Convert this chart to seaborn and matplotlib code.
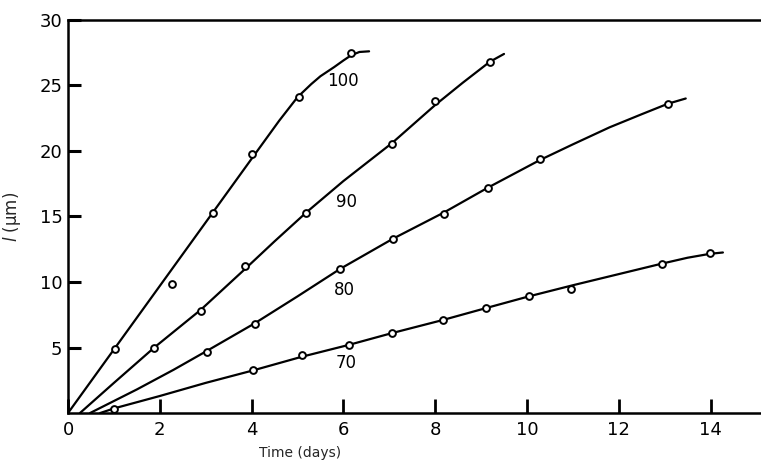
import numpy as np
import pandas as pd
import matplotlib
matplotlib.use("Agg")
import matplotlib.pyplot as plt
import seaborn as sns

# ---- data ----
labels = ["100", "90", "80", "70"]

# measured points (open circles)
pts100_x = [1.02, 2.27, 3.16, 4.00, 5.03, 6.17]
pts100_y = [4.9, 9.85, 15.3, 19.8, 24.1, 27.5]
pts90_x = [1.88, 2.90, 3.86, 5.19, 7.06, 8.00, 9.19]
pts90_y = [5.0, 7.8, 11.2, 15.3, 20.5, 23.8, 26.8]
pts80_x = [3.03, 4.07, 5.93, 7.08, 8.19, 9.15, 10.28, 13.07]
pts80_y = [4.65, 6.8, 11.0, 13.3, 15.2, 17.2, 19.4, 23.6]
pts70_x = [1.00, 4.03, 5.10, 6.12, 7.06, 8.17, 9.10, 10.04, 10.96, 12.94, 13.99]
pts70_y = [0.3, 3.3, 4.4, 5.2, 6.1, 7.1, 8.0, 8.9, 9.45, 11.4, 12.2]

# drawn (fitted) curves
cur100_x = [0.0, 1.0, 2.0, 3.0, 4.0, 4.6, 5.0, 5.3, 5.5, 5.8, 6.0, 6.17, 6.35, 6.56]
cur100_y = [0.0, 4.85, 9.7, 14.55, 19.4, 22.3, 24.1, 25.1, 25.7, 26.4, 26.9, 27.3, 27.55, 27.6]
cur90_x = [0.26, 1.0, 1.88, 2.90, 3.86, 4.5, 5.19, 6.0, 7.06, 8.00, 8.6, 9.19, 9.50]
cur90_y = [0.0, 2.3, 5.0, 7.9, 11.0, 13.1, 15.3, 17.7, 20.6, 23.5, 25.2, 26.8, 27.4]
cur80_x = [0.48, 1.5, 2.3, 3.03, 4.07, 5.0, 5.93, 7.08, 8.19, 9.15, 10.28, 11.0, 11.8, 12.5, 13.07, 13.46]
cur80_y = [0.0, 1.8, 3.3, 4.75, 6.85, 8.9, 11.0, 13.3, 15.3, 17.2, 19.3, 20.5, 21.8, 22.8, 23.6, 24.0]
cur70_x = [0.70, 1.0, 2.0, 3.0, 4.03, 5.10, 6.12, 7.06, 8.17, 9.10, 10.04, 11.0, 12.0, 12.94, 13.5, 13.99, 14.27]
cur70_y = [0.0, 0.35, 1.3, 2.3, 3.25, 4.3, 5.2, 6.1, 7.1, 8.0, 8.9, 9.75, 10.6, 11.4, 11.85, 12.15, 12.25]

# label positions
label_x = [6.0, 6.07, 6.03, 6.07]
label_y = [25.3, 16.1, 9.4, 3.8]

x_ticks = [0, 2, 4, 6, 8, 10, 12, 14]
y_ticks = [5, 10, 15, 20, 25, 30]

pts = pd.concat([
    pd.DataFrame({"x": pts100_x, "y": pts100_y, "s": "100"}),
    pd.DataFrame({"x": pts90_x, "y": pts90_y, "s": "90"}),
    pd.DataFrame({"x": pts80_x, "y": pts80_y, "s": "80"}),
    pd.DataFrame({"x": pts70_x, "y": pts70_y, "s": "70"}),
])
curves = [(cur100_x, cur100_y), (cur90_x, cur90_y), (cur80_x, cur80_y), (cur70_x, cur70_y)]

sns.set_style("ticks")
plt.rcParams["font.family"] = ["DejaVu Sans"]

fig = plt.figure(figsize=(7.61, 4.62), dpi=100)
ax = fig.add_axes([0.0894, 0.106, 0.9106, 0.851])

for (cx, cy), lab in zip(curves, labels):
    sns.lineplot(x=cx, y=cy, sort=False, color="black", linewidth=1.6, ax=ax, zorder=2)

sns.scatterplot(data=pts, x="x", y="y", marker="o", s=24, facecolor="white",
                edgecolor="black", linewidth=1.4, ax=ax, zorder=3, legend=False)

for lx, ly, lab in zip(label_x, label_y, labels):
    ax.text(lx, ly, lab, fontsize=12, ha="center", va="center", color="black")

ax.set_xlim(0, 15.1)
ax.set_ylim(0, 30)
ax.set_xticks(x_ticks)
ax.set_yticks(y_ticks)
ax.set_axisbelow(False)
ax.tick_params(axis="x", which="major", direction="in", length=10, width=2.0,
               labelsize=13, color="black", labelcolor="black", pad=6,
               bottom=True, top=False)
ax.tick_params(axis="y", which="major", direction="in", length=9, width=2.2,
               labelsize=13, color="black", labelcolor="black", pad=4,
               left=True, right=False)

for side in ["left", "bottom", "top"]:
    ax.spines[side].set_visible(True)
    ax.spines[side].set_color("black")
    ax.spines[side].set_linewidth(1.8)
ax.spines["right"].set_visible(False)

ax.set_xlabel("Time (days)", fontsize=10)
ax.xaxis.set_label_coords(0.335, -0.085)
ax.set_ylabel("$l$ (μm)", fontsize=12)
ax.yaxis.set_label_coords(-0.065, 0.5)

fig.savefig("out.png", dpi=100)
